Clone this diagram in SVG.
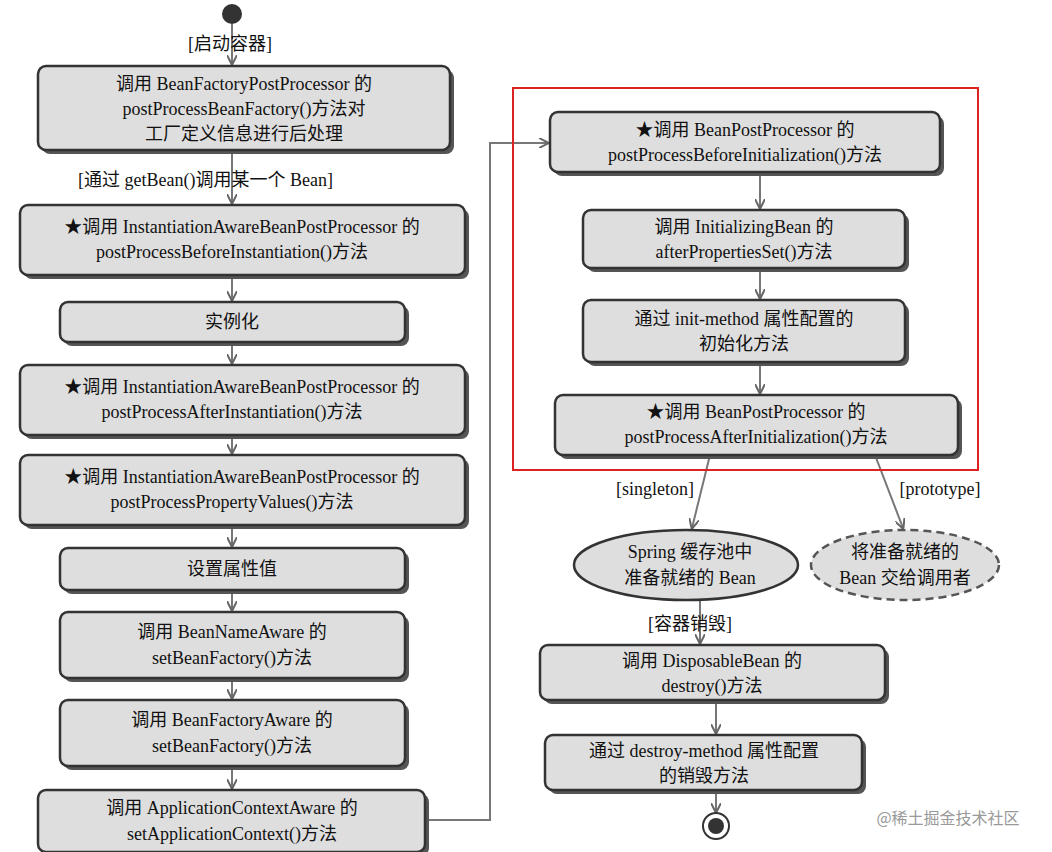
<svg xmlns="http://www.w3.org/2000/svg" width="1052" height="852" viewBox="0 0 1052 852">
<style>
.b{fill:#dedede;stroke:#333;stroke-width:2.5}
.s{fill:#555}
text{font-family:"Liberation Serif","Noto Sans CJK SC",serif;font-size:18px;fill:#111;text-anchor:middle}
.l{text-anchor:start}
.c{fill:none;stroke:#777;stroke-width:2}
</style>
<defs><marker id="a" markerWidth="10" markerHeight="10" refX="9" refY="5" orient="auto" markerUnits="userSpaceOnUse"><path d="M0,0L10,5L0,10" fill="none" stroke="#666" stroke-width="2"/></marker></defs>
<rect width="1052" height="852" fill="#fff"/>
<g id="connectors" class="c" marker-end="url(#a)">
<path d="M232,24V64"/><path d="M232,150V203"/><path d="M232,275V300"/><path d="M232,342V363"/><path d="M232,435V453"/><path d="M232,525V546"/><path d="M232,590V610"/><path d="M232,678V698"/><path d="M232,766V788"/>
<path d="M425,820H490V143H548"/>
<path d="M760,172V208"/><path d="M760,268V298"/><path d="M760,362V393"/>
<path d="M710,455L692,528"/><path d="M875,455L903,528"/><path d="M700,600V643"/><path d="M716,700V733"/><path d="M716,790V812"/>
</g>
<g id="start"><circle cx="232" cy="14" r="10" fill="#333"/></g>
<text x="230" y="50">[启动容器]</text>
<g id="n1"><rect x="42" y="70" width="412" height="84" rx="8" class="s"/><rect x="38" y="66" width="412" height="84" rx="8" class="b"/><text x="244" y="90">调用 BeanFactoryPostProcessor 的</text><text x="244" y="115">postProcessBeanFactory()方法对</text><text x="244" y="140">工厂定义信息进行后处理</text></g>
<text x="78" y="186" class="l">[通过 getBean()调用某一个 Bean]</text>
<g id="n2"><rect x="24" y="209" width="445" height="70" rx="8" class="s"/><rect x="20" y="205" width="445" height="70" rx="8" class="b"/><text x="242" y="233">★调用 InstantiationAwareBeanPostProcessor 的</text><text x="232" y="258">postProcessBeforeInstantiation()方法</text></g>
<g id="n3"><rect x="64" y="306" width="345" height="40" rx="8" class="s"/><rect x="60" y="302" width="345" height="40" rx="8" class="b"/><text x="232" y="328">实例化</text></g>
<g id="n4"><rect x="24" y="369" width="445" height="70" rx="8" class="s"/><rect x="20" y="365" width="445" height="70" rx="8" class="b"/><text x="242" y="393">★调用 InstantiationAwareBeanPostProcessor 的</text><text x="232" y="418">postProcessAfterInstantiation()方法</text></g>
<g id="n5"><rect x="24" y="459" width="445" height="70" rx="8" class="s"/><rect x="20" y="455" width="445" height="70" rx="8" class="b"/><text x="242" y="483">★调用 InstantiationAwareBeanPostProcessor 的</text><text x="232" y="508">postProcessPropertyValues()方法</text></g>
<g id="n6"><rect x="64" y="552" width="345" height="42" rx="8" class="s"/><rect x="60" y="548" width="345" height="42" rx="8" class="b"/><text x="232" y="575">设置属性值</text></g>
<g id="n7"><rect x="64" y="616" width="345" height="66" rx="8" class="s"/><rect x="60" y="612" width="345" height="66" rx="8" class="b"/><text x="232" y="638">调用 BeanNameAware 的</text><text x="232" y="664">setBeanFactory()方法</text></g>
<g id="n8"><rect x="64" y="704" width="345" height="66" rx="8" class="s"/><rect x="60" y="700" width="345" height="66" rx="8" class="b"/><text x="232" y="726">调用 BeanFactoryAware 的</text><text x="232" y="752">setBeanFactory()方法</text></g>
<g id="n9"><rect x="42" y="794" width="387" height="62" rx="8" class="s"/><rect x="38" y="790" width="387" height="62" rx="8" class="b"/><text x="232" y="814">调用 ApplicationContextAware 的</text><text x="232" y="840">setApplicationContext()方法</text></g>
<g id="frame"><rect x="513" y="88" width="465" height="382" fill="none" stroke="#d22" stroke-width="2"/></g>
<g id="r1"><rect x="554" y="116" width="390" height="60" rx="8" class="s"/><rect x="550" y="112" width="390" height="60" rx="8" class="b"/><text x="745" y="136">★调用 BeanPostProcessor 的</text><text x="745" y="161">postProcessBeforeInitialization()方法</text></g>
<g id="r2"><rect x="587" y="214" width="322" height="58" rx="8" class="s"/><rect x="583" y="210" width="322" height="58" rx="8" class="b"/><text x="744" y="233">调用 InitializingBean 的</text><text x="744" y="258">afterPropertiesSet()方法</text></g>
<g id="r3"><rect x="587" y="304" width="322" height="62" rx="8" class="s"/><rect x="583" y="300" width="322" height="62" rx="8" class="b"/><text x="744" y="325">通过 init-method 属性配置的</text><text x="744" y="350">初始化方法</text></g>
<g id="r4"><rect x="559" y="399" width="403" height="60" rx="8" class="s"/><rect x="555" y="395" width="403" height="60" rx="8" class="b"/><text x="756" y="418">★调用 BeanPostProcessor 的</text><text x="756" y="443">postProcessAfterInitialization()方法</text></g>
<text x="655" y="495">[singleton]</text><text x="940" y="495">[prototype]</text>
<g id="e1"><ellipse cx="686" cy="565" rx="112" ry="35" fill="#dedede" stroke="#333" stroke-width="2.5"/><text x="690" y="558">Spring 缓存池中</text><text x="690" y="584">准备就绪的 Bean</text></g>
<g id="e2"><ellipse cx="905" cy="565" rx="94" ry="35" fill="#dedede" stroke="#555" stroke-width="2.5" stroke-dasharray="8,5"/><text x="905" y="558">将准备就绪的</text><text x="905" y="584">Bean 交给调用者</text></g>
<text x="690" y="630">[容器销毁]</text>
<g id="d1"><rect x="544" y="649" width="345" height="55" rx="8" class="s"/><rect x="540" y="645" width="345" height="55" rx="8" class="b"/><text x="712" y="667">调用 DisposableBean 的</text><text x="712" y="692">destroy()方法</text></g>
<g id="d2"><rect x="549" y="739" width="317" height="55" rx="8" class="s"/><rect x="545" y="735" width="317" height="55" rx="8" class="b"/><text x="704" y="757">通过 destroy-method 属性配置</text><text x="704" y="782">的销毁方法</text></g>
<g id="end"><circle cx="716" cy="826" r="13" fill="none" stroke="#333" stroke-width="2"/><circle cx="716" cy="826" r="8" fill="#333"/></g>
<text x="948" y="824" style="font-family:'Noto Sans CJK SC',sans-serif;font-size:16px;fill:#999">@稀土掘金技术社区</text>
</svg>
